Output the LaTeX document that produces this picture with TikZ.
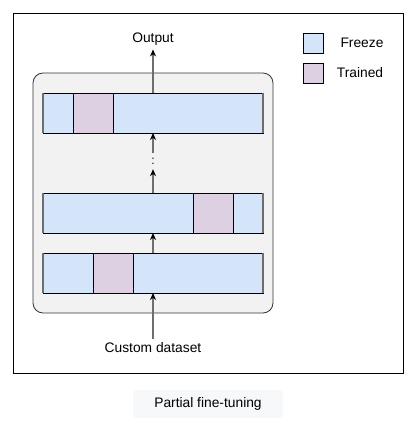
\documentclass[tikz,border=0pt]{standalone}
\usepackage{fontspec}
\setmainfont{Liberation Sans}
\usetikzlibrary{arrows.meta}
\definecolor{frz}{HTML}{D4E4F9}
\definecolor{trn}{HTML}{DDD0E2}
\definecolor{cont}{HTML}{F2F2F2}
\definecolor{capbg}{HTML}{F7F8FA}
\definecolor{arr}{HTML}{6E6E6E}
\tikzset{
  frzbox/.style={draw=black, fill=frz, line width=0.8pt},
  trnbox/.style={draw=black, fill=trn, line width=0.8pt},
  conn/.style={draw=arr, line width=1.1pt, -{Stealth[length=7pt,width=6pt,black]}},
  lbl/.style={font=\fontsize{13.8}{15}\selectfont, inner sep=1pt},
  endline/.style={draw=arr, line width=1.6pt}
}
\begin{document}
\begin{tikzpicture}[x=1pt,y=-1pt]
\useasboundingbox (0,0) rectangle (415,425);
% outer frame
\draw[line width=0.9pt] (13,13) rectangle (403,373);
% container
\draw[fill=cont, draw=black!80, line width=0.8pt, rounded corners=10pt] (33,73) rectangle (273,313);
% top layer
\path[frzbox] (43,93) rectangle (73,133);
\path[trnbox] (73,93) rectangle (113,133);
\path[frzbox] (113,93) rectangle (263,133);
\draw[endline] (43,93) -- (43,133);
\draw[endline] (263,93) -- (263,133);
% middle layer
\path[frzbox] (43,193) rectangle (193,233);
\path[trnbox] (193,193) rectangle (233,233);
\path[frzbox] (233,193) rectangle (263,233);
\draw[endline] (43,193) -- (43,233);
\draw[endline] (263,193) -- (263,233);
% bottom layer
\path[frzbox] (43,253) rectangle (93,293);
\path[trnbox] (93,253) rectangle (133,293);
\path[frzbox] (133,253) rectangle (263,293);
\draw[endline] (43,253) -- (43,293);
\draw[endline] (263,253) -- (263,293);
% named anchors
\coordinate (topT) at (153,93);
\coordinate (topB) at (153,133);
\coordinate (midT) at (153,193);
\coordinate (midB) at (153,233);
\coordinate (botT) at (153,253);
\coordinate (botB) at (153,293);
\node[lbl] (out) at (153,39) {Output};
\node[lbl] (ds) at (153,348) {Custom dataset};
\node[inner sep=0pt, minimum height=16pt, font=\fontsize{12}{12}\selectfont] (dots) at (153,161) {:};
\draw[conn] (topT) -- ([yshift=-3pt]out.south);
\draw[conn] (dots.north) -- (topB);
\draw[conn] (midT) -- (dots.south);
\draw[conn] (botT) -- (midB);
\draw[conn] ([yshift=3pt]ds.north) -- (botB);
% legend
\node[frzbox, minimum width=20pt, minimum height=20pt, inner sep=0pt] (lf) at (313,43) {};
\node[trnbox, minimum width=20pt, minimum height=20pt, inner sep=0pt] (lt) at (313,73) {};
\node[lbl] (lft) at (362,43) {Freeze};
\node[lbl] (ltt) at (360,73) {Trained};
% caption
\node[fill=capbg, rounded corners=3pt, minimum width=150pt, minimum height=28pt, font=\fontsize{13.8}{15}\selectfont] (cap) at (208,404) {Partial fine-tuning};
\end{tikzpicture}
\end{document}
